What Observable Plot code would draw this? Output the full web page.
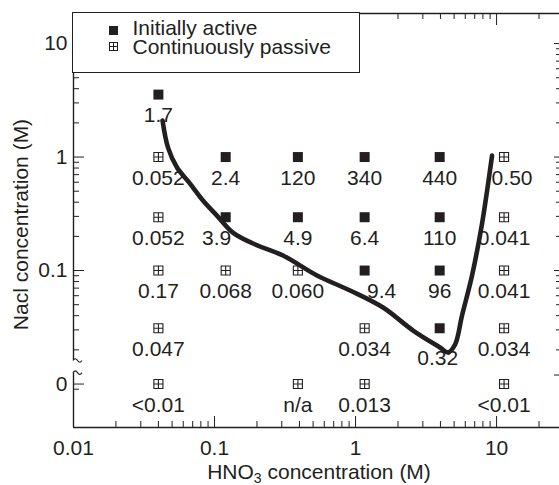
<!DOCTYPE html>
<html>
<head>
<meta charset="utf-8">
<script src="https://cdn.jsdelivr.net/npm/d3@7"></script>
<script src="https://cdn.jsdelivr.net/npm/@observablehq/plot@0.6"></script>
<style>
  html, body { margin: 0; padding: 0; background: #fff; }
  #wrap { position: relative; width: 559px; height: 485px; overflow: hidden; background: #fff; }
  #legend { position: absolute; left: 72px; top: 12px; width: 288px; height: 61px; box-sizing: border-box;
            border: 1.5px solid #231f20; background: #fff; font-family: "Liberation Sans", Arial, Helvetica, sans-serif;
            color: #231f20; font-size: 21px; }
  #legend .mk { position: absolute; }
  #legend .lbl { position: absolute; line-height: 18px; height: 18px; white-space: nowrap; }
</style>
</head>
<body>
<div id="wrap">
  <div id="chart"></div>
  <div id="legend">
    <svg class="mk" style="left:35.5px;top:12.5px" width="9" height="9"><rect x="0" y="0" width="9" height="9" fill="#231f20"/></svg>
    <span class="lbl" id="leg0" style="left:59.5px;top:6.2px"></span>
    <svg class="mk" style="left:36px;top:29px" width="9" height="9"><rect x="0.5" y="0.5" width="8" height="8" fill="#fff" stroke="#231f20" stroke-width="1"/><path d="M0.5 4.5H8.5M4.5 0.5V8.5" stroke="#231f20" stroke-width="1"/></svg>
    <span class="lbl" id="leg1" style="left:59.5px;top:25.2px"></span>
  </div>
</div>
<script>
// ---------- data ----------
const legendLabels = ["Initially active", "Continuously passive"];
const xTitle = "HNO3 concentration (M)";
const yTitle = "Nacl concentration (M)";

// Initially active specimens: HNO3 (M), NaCl (M), value shown
const activeHNO3 = [0.04, 0.12, 0.39, 1.16, 3.95, 0.12, 0.39, 1.16, 3.95, 1.16, 3.95, 3.95];
const activeNaCl = [3.55, 1, 1, 1, 1, 0.295, 0.295, 0.295, 0.295, 0.1, 0.1, 0.031];
const activeLabels = ["1.7", "2.4", "120", "340", "440", "3.9", "4.9", "6.4", "110", "9.4", "96", "0.32"];

// Continuously passive specimens (NaCl 0 sits below the axis break)
const passiveHNO3 = [0.04, 11.3, 0.04, 11.3, 0.04, 0.12, 0.39, 11.3, 0.04, 1.16, 11.3, 0.04, 0.39, 1.16, 11.3];
const passiveNaCl = [1, 1, 0.295, 0.295, 0.1, 0.1, 0.1, 0.1, 0.031, 0.031, 0.031, 0, 0, 0, 0];
const passiveLabels = ["0.052", "0.50", "0.052", "0.041", "0.17", "0.068", "0.060", "0.041", "0.047", "0.034", "0.034", "<0.01", "n/a", "0.013", "<0.01"];

// Boundary curve
const boundaryHNO3 = [0.0428, 0.0468, 0.0542, 0.067, 0.0828, 0.104, 0.135, 0.1875, 0.306, 0.533, 0.914, 1.567, 2.56, 3.97, 4.53, 5.08, 5.69, 6.70, 7.89, 8.57, 9.29];
const boundaryNaCl = [2.10, 1.21, 0.808, 0.584, 0.414, 0.305, 0.216, 0.173, 0.1356, 0.0904, 0.0667, 0.0472, 0.0296, 0.0210, 0.0190, 0.0223, 0.0402, 0.0904, 0.2596, 0.507, 1.03];

// Ticks
const xMajorTicks = [0.01, 0.1, 1, 10];
const xMinorTicks = [0.02, 0.03, 0.04, 0.05, 0.06, 0.07, 0.08, 0.09, 0.2, 0.3, 0.4, 0.5, 0.6, 0.7, 0.8, 0.9, 2, 3, 4, 5, 6, 7, 8, 9, 20];
const yMajorTicks = [10, 1, 0.1];
const yMinorTicks = [9, 8, 7, 6, 5, 4, 3, 2, 0.9, 0.8, 0.7, 0.6, 0.5, 0.4, 0.3, 0.2, 0.09, 0.08, 0.07, 0.06, 0.05, 0.04, 0.03, 0.02];
const yZeroTick = 0.01;       // where NaCl = 0 is drawn, below the break
const yZeroMinorTicks = [0.009];
const yRightMajorTicks = [10, 1, 0.1, 0.012];

// ---------- scale / style settings ----------
const xDomain = [0.01, 28.4];
const yDomain = [0.00414, 18.4];
const yBreak = [0.0126, 0.0161];
const INK = "#231f20";
const FONT = '"Liberation Sans", Arial, Helvetica, sans-serif';
const labelNudge = {"9.4": {dx: 17, dy: 0}, "3.9": {dx: -9, dy: 0}, "0.32": {dx: -2, dy: 9}, "0.50": {dx: 8, dy: 0}};

const naclPos = v => v === 0 ? yZeroTick : v;
const active = activeHNO3.map((x, i) => ({hno3: x, nacl: activeNaCl[i], label: activeLabels[i]}));
const passive = passiveHNO3.map((x, i) => ({hno3: x, nacl: passiveNaCl[i], label: passiveLabels[i]}));
const boundary = boundaryHNO3.map((x, i) => ({hno3: x, nacl: boundaryNaCl[i]}));
const cells = active.concat(passive);

const boxPlus = {
  draw(ctx, size) {
    const h = Math.sqrt(size) / 2;
    ctx.moveTo(-h, -h); ctx.lineTo(h, -h); ctx.lineTo(h, h); ctx.lineTo(-h, h); ctx.closePath();
    ctx.moveTo(-h, 0); ctx.lineTo(h, 0);
    ctx.moveTo(0, -h); ctx.lineTo(0, h);
  }
};
// small wavy axis-break glyph
const wave = {
  draw(ctx) {
    ctx.moveTo(-4.5, 0);
    ctx.quadraticCurveTo(-2.25, -3.5, 0, 0);
    ctx.quadraticCurveTo(2.25, 3.5, 4.5, 0);
  }
};

const plain = cells.filter(d => !(d.label in labelNudge));
const nudged = cells.filter(d => d.label in labelNudge);

const marks = [
  // frame lines
  Plot.ruleY([yDomain[0]], {stroke: INK, strokeWidth: 1.6}),
  Plot.ruleY([yDomain[1]], {stroke: INK, strokeWidth: 1.6}),
  Plot.ruleX([xDomain[0]], {y1: yBreak[1], y2: yDomain[1], stroke: INK, strokeWidth: 1.4}),
  Plot.ruleX([xDomain[0]], {y1: yDomain[0], y2: yBreak[0], stroke: INK, strokeWidth: 1.4}),
  Plot.dot(yBreak, {x: () => xDomain[0], y: d => d, symbol: wave, r: 3, dx: 4, fill: "none", stroke: INK, strokeWidth: 1.1}),
  // inward ticks: bottom
  Plot.axisX(xMajorTicks, {anchor: "bottom", tickSize: 11, dy: -11, fill: "none", stroke: INK, label: null}),
  Plot.axisX(xMinorTicks, {anchor: "bottom", tickSize: 6, dy: -6, fill: "none", stroke: INK, label: null}),
  // top
  Plot.axisX(xMajorTicks, {anchor: "top", tickSize: 11, dy: 11, fill: "none", stroke: INK, label: null}),
  Plot.axisX(xMinorTicks, {anchor: "top", tickSize: 5, dy: 5, fill: "none", stroke: INK, label: null}),
  // left
  Plot.axisY(yMajorTicks.concat([yZeroTick]), {anchor: "left", tickSize: 11, dx: 11, fill: "none", stroke: INK, label: null}),
  Plot.axisY(yMinorTicks.concat(yZeroMinorTicks), {anchor: "left", tickSize: 6, dx: 6, fill: "none", stroke: INK, label: null}),
  // right (axis line lies just outside the picture)
  Plot.axisY(yRightMajorTicks, {anchor: "right", tickSize: 7, dx: -7, fill: "none", stroke: INK, label: null}),
  Plot.axisY(yMinorTicks, {anchor: "right", tickSize: 5, dx: -5, fill: "none", stroke: INK, label: null}),
  // tick labels
  Plot.axisX(xMajorTicks, {anchor: "bottom", tickSize: 0, tickPadding: 13, tickFormat: d => String(d), fontSize: 21, fill: INK, label: null}),
  Plot.axisY(yMajorTicks.concat([yZeroTick]), {anchor: "left", tickSize: 0, tickPadding: 6, tickFormat: d => d === yZeroTick ? "0" : String(d), fontSize: 21, fill: INK, label: null}),
  // markers
  Plot.dot(passive, {x: "hno3", y: d => naclPos(d.nacl), symbol: boxPlus, r: 5.1, fill: "white", stroke: INK, strokeWidth: 1.1}),
  Plot.dot(active, {x: "hno3", y: d => naclPos(d.nacl), symbol: "square", r: 5.64, fill: INK}),
  // value labels
  Plot.text(plain, {x: "hno3", y: d => naclPos(d.nacl), text: "label", dy: 21, fontSize: 21, fill: INK}),
  ...nudged.map(d => Plot.text([d], {x: "hno3", y: e => naclPos(e.nacl), text: "label", dx: labelNudge[d.label].dx, dy: 21 + labelNudge[d.label].dy, fontSize: 21, fill: INK})),
  // boundary
  Plot.line(boundary, {x: "hno3", y: "nacl", curve: "catmull-rom", stroke: INK, strokeWidth: 4.6}),
  // axis titles
  Plot.text([xTitle], {frameAnchor: "bottom", lineAnchor: "middle", textAnchor: "middle", dx: 2, dy: 45, fontSize: 21, fill: INK}),
  Plot.text([yTitle], {frameAnchor: "left", lineAnchor: "middle", textAnchor: "middle", rotate: -90, dx: -52, dy: 4, fontSize: 21, fill: INK})
];

const chart = Plot.plot({
  width: 559, height: 485,
  marginLeft: 73, marginRight: -1, marginTop: 13, marginBottom: 58,
  x: {type: "log", domain: xDomain},
  y: {type: "log", domain: yDomain},
  style: {fontFamily: FONT, fontSize: "21px", color: INK, background: "white", overflow: "visible"},
  marks
});
document.getElementById("chart").appendChild(chart);

// subscript for HNO3 in the x title
d3.select(chart).selectAll("text").filter(function () { return this.textContent === xTitle; }).each(function () {
  const t = d3.select(this);
  t.text(null);
  t.append("tspan").text("HNO");
  t.append("tspan").attr("font-size", "14px").attr("dy", "4").text("3");
  t.append("tspan").attr("dy", "-4").text(" concentration (M)");
});

document.getElementById("leg0").textContent = legendLabels[0];
document.getElementById("leg1").textContent = legendLabels[1];
</script>
</body>
</html>
